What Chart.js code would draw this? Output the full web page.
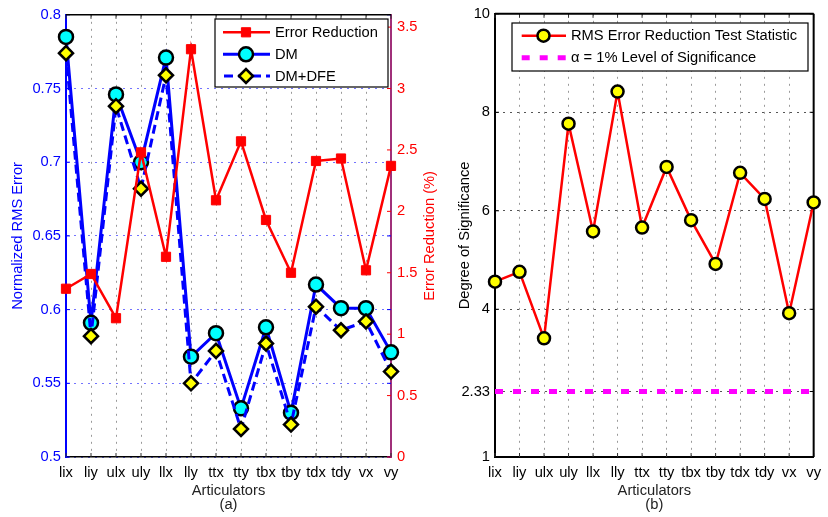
<!DOCTYPE html>
<html>
<head>
<meta charset="utf-8">
<script src="https://cdn.jsdelivr.net/npm/chart.js@4.4.1/dist/chart.umd.min.js"></script>
<style>
  html, body { margin: 0; padding: 0; background: #fff; }
  #wrap { position: relative; width: 828px; height: 517px; overflow: hidden; background: #fff; }
  #wrap canvas { position: absolute; top: 0; }
  #cA { left: 0; }
  #cB { left: 440px; }
</style>
</head>
<body>
<div id="wrap">
  <canvas id="cA" width="440" height="517"></canvas>
  <canvas id="cB" width="388" height="517"></canvas>
</div>
<script>
// ---- data ----
const articulators = ['lix', 'liy', 'ulx', 'uly', 'llx', 'lly', 'ttx', 'tty', 'tbx', 'tby', 'tdx', 'tdy', 'vx', 'vy'];

// (a) normalized RMS error and the relative reduction
const rmsDM     = [0.785, 0.591, 0.746, 0.700, 0.771, 0.568, 0.584, 0.533, 0.588, 0.530, 0.617, 0.601, 0.601, 0.571];
const rmsDMDFE  = [0.774, 0.582, 0.738, 0.682, 0.759, 0.550, 0.572, 0.519, 0.577, 0.522, 0.602, 0.586, 0.592, 0.558];
const errorReductionPct = [1.37, 1.49, 1.13, 2.48, 1.63, 3.32, 2.09, 2.57, 1.93, 1.50, 2.41, 2.43, 1.52, 2.37];

// (b) test statistic against the 1% significance level
const testStatistic = [4.56, 4.76, 3.41, 7.77, 5.58, 8.42, 5.66, 6.89, 5.81, 4.92, 6.77, 6.24, 3.92, 6.17];
const significanceLevel = 2.33;

// tick values
const rmsTicks = [0.5, 0.55, 0.6, 0.65, 0.7, 0.75, 0.8];
const reductionTicks = [0, 0.5, 1, 1.5, 2, 2.5, 3, 3.5];
const significanceTicks = [1, 2.33, 4, 6, 8, 10];

// ---- styling helpers ----
const FONT = '"Liberation Sans", Arial, Helvetica, sans-serif';
const FS = 14.7;
Chart.defaults.font.family = FONT;
Chart.defaults.font.size = FS;
Chart.defaults.color = '#000';

const fixedTicks = values => scale => { scale.ticks = values.map(v => ({ value: v })); };
const plainLabel = v => String(v);

function drawMarker(ctx, ds, x, y) {
  if (!ds.pointRadius) return;
  ctx.save();
  ctx.setLineDash([]);
  ctx.fillStyle = ds.pointBackgroundColor;
  ctx.strokeStyle = ds.pointBorderColor;
  ctx.lineWidth = ds.pointBorderWidth;
  if (Chart.helpers && Chart.helpers.drawPoint) {
    Chart.helpers.drawPoint(ctx, { pointStyle: ds.pointStyle, radius: ds.pointRadius, rotation: 0, borderWidth: ds.pointBorderWidth }, x, y);
  } else {
    ctx.beginPath();
    ctx.arc(x, y, ds.pointRadius, 0, Math.PI * 2);
    ctx.fill();
    ctx.stroke();
  }
  ctx.restore();
}

// inner tick marks and the frame lines that have no axis of their own
const frameAndTicks = {
  id: 'frameAndTicks',
  beforeDatasetsDraw(chart, args, opts) {
    const { ctx, chartArea: a, scales } = chart;
    const L = 4;
    ctx.save();
    ctx.setLineDash([]);
    ctx.lineWidth = 1;
    const x = scales.x;
    ctx.strokeStyle = opts.xTickColor;
    ctx.beginPath();
    x.ticks.forEach((t, i) => {
      const px = x.getPixelForTick(i);
      ctx.moveTo(px, a.bottom); ctx.lineTo(px, a.bottom - L);
      ctx.moveTo(px, a.top); ctx.lineTo(px, a.top + L);
    });
    ctx.stroke();
    (opts.yMarks || []).forEach(m => {
      const s = scales[m.scale];
      ctx.strokeStyle = m.color;
      ctx.beginPath();
      s.ticks.forEach(t => {
        const py = s.getPixelForValue(t.value);
        if (m.left) { ctx.moveTo(a.left, py); ctx.lineTo(a.left + L, py); }
        if (m.right) { ctx.moveTo(a.right - L, py); ctx.lineTo(a.right, py); }
      });
      ctx.stroke();
    });
    ctx.strokeStyle = opts.frameColor;
    ctx.lineWidth = opts.frameWidth;
    ctx.beginPath();
    ctx.moveTo(a.left, a.top); ctx.lineTo(a.right, a.top);
    if (opts.rightFrame) { ctx.moveTo(a.right, a.top); ctx.lineTo(a.right, a.bottom); }
    ctx.stroke();
    ctx.restore();
  }
};

// legend box placed inside the plot area
const insetLegend = {
  id: 'insetLegend',
  afterDraw(chart, args, opts) {
    const { ctx } = chart;
    const b = opts.box;
    ctx.save();
    ctx.fillStyle = '#fff';
    ctx.fillRect(b.x1, b.y1, b.x2 - b.x1, b.y2 - b.y1);
    ctx.strokeStyle = '#000';
    ctx.lineWidth = 1.2;
    ctx.setLineDash([]);
    ctx.strokeRect(b.x1, b.y1, b.x2 - b.x1, b.y2 - b.y1);
    ctx.font = FS + 'px ' + FONT;
    ctx.textBaseline = 'middle';
    ctx.textAlign = 'left';
    opts.rows.forEach((y, i) => {
      const ds = chart.data.datasets[i];
      ctx.save();
      ctx.strokeStyle = ds.borderColor;
      ctx.lineWidth = ds.borderWidth;
      ctx.setLineDash(ds.borderDash || []);
      ctx.lineDashOffset = ds.legendDashOffset || 0;
      ctx.beginPath();
      ctx.moveTo(opts.lineX1, y);
      ctx.lineTo(opts.lineX2, y);
      ctx.stroke();
      ctx.restore();
      drawMarker(ctx, ds, opts.markerX, y);
      ctx.fillStyle = '#000';
      ctx.fillText(ds.label, opts.textX, y + 0.5);
    });
    ctx.restore();
  }
};

// right-hand axis title, reading bottom to top
const sideTitle = {
  id: 'sideTitle',
  afterDraw(chart, args, opts) {
    const { ctx, chartArea: a } = chart;
    const t = chart.options.scales[opts.scale].title;
    ctx.save();
    ctx.translate(opts.x, (a.top + a.bottom) / 2);
    ctx.rotate(-Math.PI / 2);
    ctx.font = FS + 'px ' + FONT;
    ctx.fillStyle = t.color;
    ctx.textAlign = 'center';
    ctx.textBaseline = 'middle';
    ctx.fillText(t.text, 0, 0);
    ctx.restore();
  }
};

function categoryAxis(panelTag) {
  return {
    type: 'category',
    offset: false,
    grid: { color: '#9a9a9a', lineWidth: 1, drawTicks: false },
    border: { color: '#000', width: 1.5, dash: [2, 5] },
    ticks: { color: '#000', padding: 7, maxRotation: 0, autoSkip: false, font: { size: FS } },
    title: {
      display: true,
      text: ['Articulators', panelTag],
      color: '#222',
      font: { size: FS, lineHeight: '14px' },
      padding: { top: 0, bottom: 5.4 }
    },
    afterFit: s => { s.height = 60; }
  };
}

// ---- panel (a) ----
new Chart(document.getElementById('cA'), {
  type: 'line',
  data: {
    labels: articulators,
    datasets: [
      {
        label: 'Error Reduction', data: errorReductionPct, yAxisID: 'y1',
        borderColor: '#ff0000', borderWidth: 2.5,
        pointStyle: 'rect', pointRadius: 6.5,
        pointBackgroundColor: '#ff0000', pointBorderColor: '#ff0000', pointBorderWidth: 1,
        order: 0, clip: false
      },
      {
        label: 'DM', data: rmsDM, yAxisID: 'y',
        borderColor: '#0000ff', borderWidth: 3,
        pointStyle: 'circle', pointRadius: 7,
        pointBackgroundColor: '#00ffff', pointBorderColor: '#000', pointBorderWidth: 2.5,
        order: 2, clip: false
      },
      {
        label: 'DM+DFE', data: rmsDMDFE, yAxisID: 'y',
        borderColor: '#0000ff', borderWidth: 3, borderDash: [9, 5], legendDashOffset: -1,
        pointStyle: 'rectRot', pointRadius: 7,
        pointBackgroundColor: '#ffff00', pointBorderColor: '#000', pointBorderWidth: 2.5,
        order: 1, clip: false
      }
    ]
  },
  options: {
    responsive: false,
    animation: false,
    events: [],
    layout: { padding: { top: 12, left: 0, right: 0, bottom: 0 } },
    elements: { line: { tension: 0 } },
    scales: {
      x: categoryAxis('(a)'),
      y: {
        position: 'left', min: 0.5, max: 0.8,
        afterBuildTicks: fixedTicks(rmsTicks),
        grid: { color: 'rgba(80,80,255,0.8)', lineWidth: 1, drawTicks: false },
        border: { color: '#0000ff', width: 2, dash: [2, 5] },
        ticks: { color: '#0000ff', padding: 5, callback: plainLabel },
        title: {
          display: true, text: 'Normalized RMS Error', color: '#0000ff',
          font: { size: FS, lineHeight: '16.5px' }, padding: { top: 9.5, bottom: 0 }
        },
        afterFit: s => { s.width = 66; }
      },
      y1: {
        position: 'right', min: 0, max: 3.6,
        afterBuildTicks: fixedTicks(reductionTicks),
        grid: { display: false, drawTicks: false },
        border: { color: '#a0307a', width: 2 },
        ticks: { color: '#ff0000', padding: 6, callback: plainLabel },
        title: { display: false, text: 'Error Reduction (%)', color: '#ff0000' },
        afterFit: s => { s.width = 49; }
      }
    },
    plugins: {
      legend: { display: false },
      tooltip: { enabled: false },
      frameAndTicks: {
        xTickColor: '#333', frameColor: '#000', frameWidth: 1.5, rightFrame: false,
        yMarks: [
          { scale: 'y', color: '#0000ff', left: true, right: true },
          { scale: 'y1', color: '#ff0000', left: false, right: true }
        ]
      },
      insetLegend: {
        box: { x1: 215, y1: 19, x2: 388, y2: 87 },
        rows: [32.3, 54.3, 76],
        lineX1: 223, lineX2: 270, markerX: 246, textX: 275
      },
      sideTitle: { scale: 'y1', x: 430 }
    }
  },
  plugins: [frameAndTicks, insetLegend, sideTitle]
});

// ---- panel (b) ----
new Chart(document.getElementById('cB'), {
  type: 'line',
  data: {
    labels: articulators,
    datasets: [
      {
        label: 'RMS Error Reduction Test Statistic', data: testStatistic,
        borderColor: '#ff0000', borderWidth: 2.5,
        pointStyle: 'circle', pointRadius: 6,
        pointBackgroundColor: '#ffff00', pointBorderColor: '#000', pointBorderWidth: 2.5,
        order: 0, clip: false
      },
      {
        label: '\u03b1 = 1% Level of Significance', data: articulators.map(() => significanceLevel),
        borderColor: '#ff00ff', borderWidth: 5, borderDash: [8, 10],
        pointRadius: 0,
        order: 1, clip: false
      }
    ]
  },
  options: {
    responsive: false,
    animation: false,
    events: [],
    layout: { padding: { top: 12, left: 0, right: 7.4, bottom: 0 } },
    elements: { line: { tension: 0 } },
    scales: {
      x: Object.assign(categoryAxis('(b)'), { border: { color: '#000', width: 2, dash: [2, 5] } }),
      y: {
        position: 'left', min: 1, max: 10,
        afterBuildTicks: fixedTicks(significanceTicks),
        grid: { color: '#555', lineWidth: 1, drawTicks: false },
        border: { color: '#000', width: 2, dash: [2, 5] },
        ticks: { color: '#000', padding: 5, callback: plainLabel },
        title: {
          display: true, text: 'Degree of Significance', color: '#000',
          font: { size: FS, lineHeight: '16.5px' }, padding: { top: 16.3, bottom: 0 }
        },
        afterFit: s => { s.width = 55; }
      }
    },
    plugins: {
      legend: { display: false },
      tooltip: { enabled: false },
      frameAndTicks: {
        xTickColor: '#333', frameColor: '#000', frameWidth: 2, rightFrame: true,
        yMarks: [{ scale: 'y', color: '#000', left: true, right: true }]
      },
      insetLegend: {
        box: { x1: 72, y1: 23, x2: 368, y2: 71 },
        rows: [35.7, 57.7],
        lineX1: 81.7, lineX2: 126, markerX: 103.5, textX: 131
      }
    }
  },
  plugins: [frameAndTicks, insetLegend]
});
</script>
</body>
</html>
